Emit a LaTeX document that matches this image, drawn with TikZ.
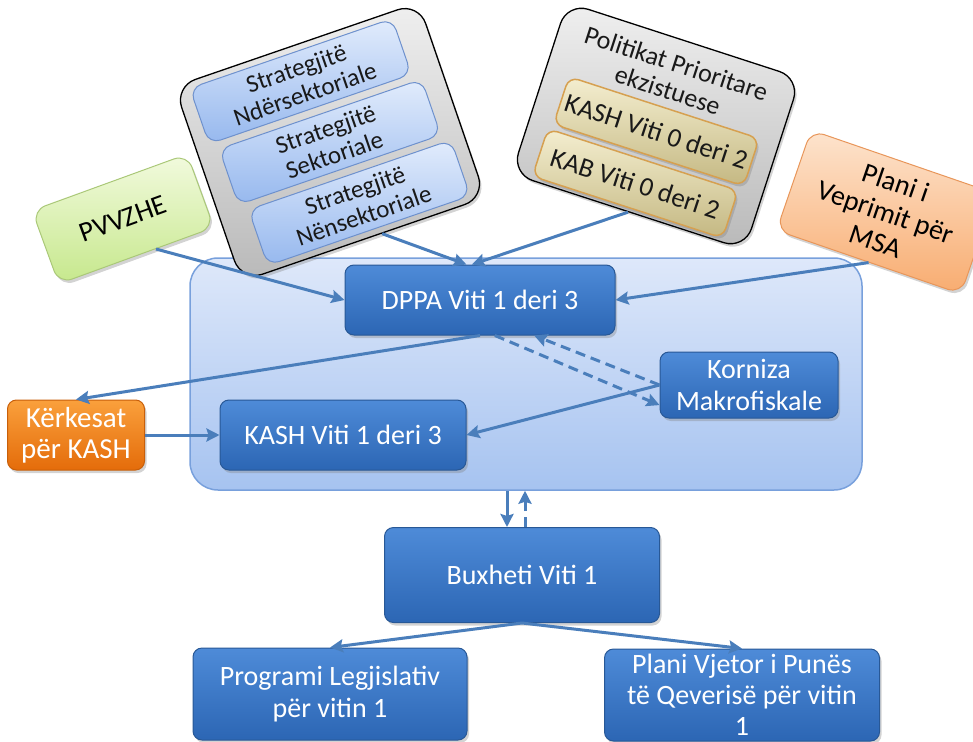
\documentclass[tikz,border=0pt]{standalone}
\usepackage{fontspec}
\setmainfont{Carlito}
\usetikzlibrary{arrows.meta,calc,shadows}
\definecolor{arrc}{RGB}{74,126,187}
\definecolor{bluetop}{RGB}{78,139,216}
\definecolor{bluebot}{RGB}{44,102,180}
\definecolor{bluedk}{RGB}{40,88,150}
\definecolor{conttop}{RGB}{222,232,250}
\definecolor{contbot}{RGB}{166,195,240}
\definecolor{contdr}{RGB}{120,160,220}
\definecolor{strtop}{RGB}{226,236,252}
\definecolor{strbot}{RGB}{150,184,238}
\definecolor{strdr}{RGB}{110,145,205}
\definecolor{tantop}{RGB}{244,238,208}
\definecolor{tanbot}{RGB}{196,184,130}
\definecolor{tandr}{RGB}{214,160,80}
\definecolor{grtop}{RGB}{242,250,222}
\definecolor{grbot}{RGB}{198,232,140}
\definecolor{grdr}{RGB}{170,200,120}
\definecolor{pchtop}{RGB}{253,228,206}
\definecolor{pchbot}{RGB}{248,172,112}
\definecolor{pchdr}{RGB}{232,150,90}
\definecolor{ortop}{RGB}{250,160,60}
\definecolor{orbot}{RGB}{228,108,10}
\definecolor{ordr}{RGB}{200,95,10}
\begin{document}
\begin{tikzpicture}[x=1pt,y=-1pt,
  shd/.style={drop shadow={opacity=0.35,shadow xshift=2pt,shadow yshift=-3pt}},
  bluebox/.style={draw=bluedk,line width=1pt,rounded corners=9pt,top color=bluetop,bottom color=bluebot,
    text=white,align=center,inner sep=0pt,shd,font=\fontsize{28}{32}\selectfont},
  contbox/.style={draw=contdr,line width=1.5pt,rounded corners=28pt,top color=conttop,bottom color=contbot,inner sep=0pt},
  graybox/.style={draw=black,line width=1.3pt,rounded corners=22pt,top color=gray!12,bottom color=gray!55,inner sep=0pt,shd},
  stratbox/.style={draw=strdr,line width=1pt,rounded corners=12pt,top color=strtop,bottom color=strbot,
    text=black!90,align=center,inner sep=0pt,font=\fontsize{25}{27}\selectfont},
  tanbox/.style={draw=tandr,line width=1.5pt,rounded corners=10pt,top color=tantop,bottom color=tanbot,
    text=black!90,align=center,inner sep=0pt,font=\fontsize{27}{30}\selectfont,shd},
  greenbox/.style={draw=grdr,line width=1pt,rounded corners=14pt,top color=grtop,bottom color=grbot,
    text=black,align=center,inner sep=0pt,font=\fontsize{28}{31}\selectfont,shd},
  peachbox/.style={draw=pchdr,line width=1pt,rounded corners=14pt,top color=pchtop,bottom color=pchbot,
    text=black,align=center,inner sep=0pt,font=\fontsize{28}{31}\selectfont,shd},
  orbox/.style={draw=ordr,line width=1pt,rounded corners=9pt,top color=ortop,bottom color=orbot,
    text=white,align=center,inner sep=0pt,font=\fontsize{29}{31}\selectfont,shd},
  arr/.style={draw=arrc,line width=3pt,-{Stealth[length=13pt,width=13pt,inset=2pt]}},
  dsh/.style={arr,dash pattern=on 10pt off 6pt}]
\useasboundingbox (0,0) rectangle (973,741);

% container
\node[contbox,minimum width=672pt,minimum height=232pt] (cont) at (526,374) {};

% Strategy group
\begin{scope}[shift={(330,142)},rotate=19,transform shape]
  \node[graybox,minimum width=258pt,minimum height=206pt] (sg) at (0,0) {};
  \node[stratbox,minimum width=214pt,minimum height=59pt] (s1) at (-8,-67) {Strategjitë\\Ndërsektoriale};
  \node[stratbox,minimum width=214pt,minimum height=59pt] (s2) at (0,0) {Strategjitë\\Sektoriale};
  \node[stratbox,minimum width=214pt,minimum height=59pt] (s3) at (8,67) {Strategjitë\\Nënsektoriale};
\end{scope}

% Politikat group
\begin{scope}[shift={(656,126)},rotate=-18,transform shape]
  \node[graybox,minimum width=245pt,minimum height=180pt] (pg) at (0,0) {};
  \node[align=center,inner sep=0pt,text=black!90,font=\fontsize{26}{28}\selectfont] (pt) at (0,-52) {Politikat Prioritare\\ekzistuese};
  \node[tanbox,minimum width=200pt,minimum height=50pt] (k0) at (2,5) {KASH Viti 0 deri 2};
  \node[tanbox,minimum width=200pt,minimum height=50pt] (kb0) at (-2,61) {KAB Viti 0 deri 2};
\end{scope}

% side inputs
\node[greenbox,rotate=20,minimum width=165pt,minimum height=78pt] (pv) at (123,219) {PVVZHE};
\node[peachbox,rotate=-19,minimum width=195pt,minimum height=106pt] (msa) at (886,212) {Plani i\\Veprimit për\\MSA};

% main boxes
\node[bluebox,minimum width=270pt,minimum height=70pt] (dppa) at (480,300) {DPPA Viti 1 deri 3};
\node[bluebox,minimum width=178pt,minimum height=66pt] (kor) at (749,385) {Korniza\\Makrofiskale};
\node[bluebox,minimum width=246pt,minimum height=70pt] (kash) at (343,435) {KASH Viti 1 deri 3};
\node[orbox,minimum width=137pt,minimum height=70pt] (ker) at (76,435) {Kërkesat\\për KASH};
\node[bluebox,minimum width=275pt,minimum height=95pt] (bux) at (522,575) {Buxheti Viti 1};
\node[bluebox,minimum width=274pt,minimum height=92pt] (prog) at (330,694) {Programi Legjislativ\\për vitin 1};
\node[bluebox,minimum width=275pt,minimum height=92pt,font=\fontsize{28}{31}\selectfont] (plan) at (742,695) {Plani Vjetor i Punës\\të Qeverisë për vitin\\1};

% connectors
\draw[arr] ($(pv.south)!0.25!(pv.south east)$) -- (dppa.west);
\draw[arr] ($(sg.south)!0.15!(sg.south east)$) -- ($(dppa.north west)!0.45!(dppa.north east)$);
\draw[arr] (pg.south) -- ($(dppa.north west)!0.47!(dppa.north east)$);
\draw[arr] (msa.south) -- (dppa.east);
\draw[arr] (dppa.south) -- (ker.north);
\draw[arr] (ker.east) -- (kash.west);
\draw[arr] (kor.west) -- (kash.east);
\draw[dsh] ($(dppa.south)!0.11!(dppa.south east)$) -- ($(kor.west)!0.6!(kor.south west)$);
\draw[dsh] (kor.west) -- ($(dppa.south)!0.4!(dppa.south east)$);
\coordinate (bx1) at ($(bux.north)+(-15,0)$);
\coordinate (bx2) at ($(bux.north)+(3,0)$);
\draw[arr] (bx1 |- cont.south) -- (bx1);
\draw[dsh] (bx2) -- (bx2 |- cont.south);
\draw[arr] (bux.south) -- (prog.north);
\draw[arr] (bux.south) -- (plan.north);
\end{tikzpicture}
\end{document}
